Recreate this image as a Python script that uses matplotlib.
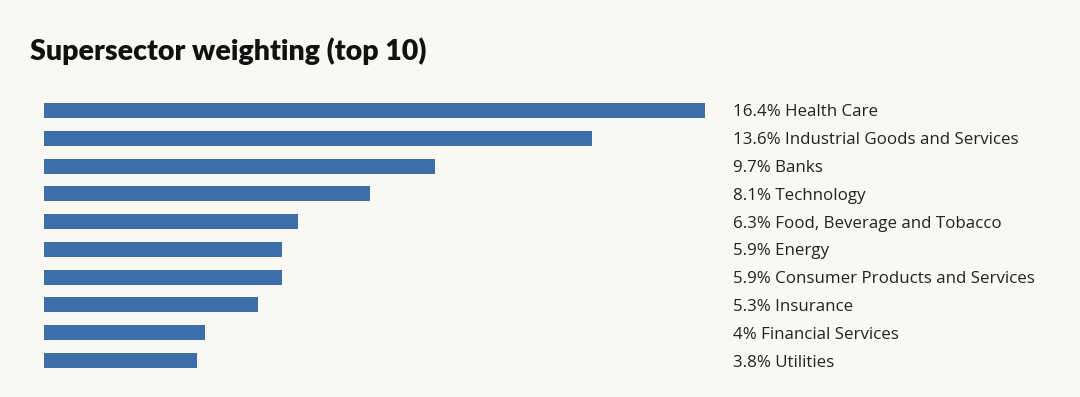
import matplotlib
matplotlib.use("Agg")
import matplotlib.pyplot as plt
from matplotlib import transforms

categories = ["Health Care", "Industrial Goods and Services", "Banks", "Technology",
              "Food, Beverage and Tobacco", "Energy", "Consumer Products and Services",
              "Insurance", "Financial Services", "Utilities"]
values = [16.4, 13.6, 9.7, 8.1, 6.3, 5.9, 5.9, 5.3, 4.0, 3.8]
value_labels = ["16.4%", "13.6%", "9.7%", "8.1%", "6.3%", "5.9%", "5.9%", "5.3%", "4%", "3.8%"]
title = "Supersector weighting (top 10)"

W, H = 1080, 397
bg = "#F9F8F2"
bar_color = "#3E6EAA"

fig = plt.figure(figsize=(W / 100, H / 100), dpi=100, facecolor=bg)
ax = fig.add_axes([44 / W, 22.6 / H, 661 / W, 277.8 / H])
ax.set_facecolor(bg)

ypos = list(range(len(categories)))
ax.barh(ypos, values, height=0.54, color=bar_color, edgecolor="none")
ax.set_xlim(0, max(values))
ax.set_ylim(len(categories) - 0.5, -0.5)
ax.axis("off")

trans = transforms.blended_transform_factory(ax.transAxes, ax.transData)
for y, lab, cat in zip(ypos, value_labels, categories):
    ax.annotate(f"{lab} {cat}", xy=(1, y), xycoords=trans, xytext=(20.5, 0),
                textcoords="offset points", ha="left", va="center_baseline",
                fontsize=12.2, color="#222222", family="Open Sans")

fig.text(30 / W, 1 - 51 / H, title, fontsize=20.5, fontweight="heavy",
         family="Lato", color="#111111", ha="left", va="center")

fig.savefig("out.png", dpi=100, facecolor=bg)
